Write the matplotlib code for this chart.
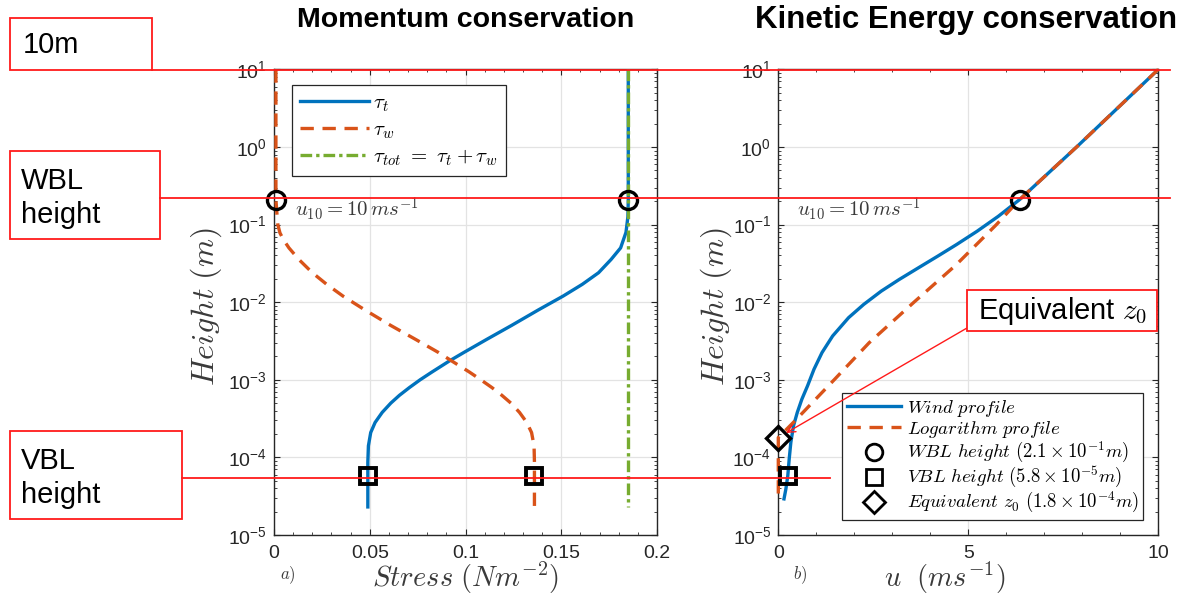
import matplotlib
matplotlib.use('Agg')
import matplotlib.pyplot as plt
from matplotlib.patches import Rectangle
from matplotlib.lines import Line2D
from matplotlib.ticker import LogLocator, MultipleLocator, NullFormatter, FixedLocator, FixedFormatter

plt.rcParams['font.family'] = ['Liberation Sans', 'DejaVu Sans']
plt.rcParams['mathtext.fontset'] = 'cm'

# ---------------- data ----------------
# Panel a) Momentum conservation
tau_t_z = [10, 1, 0.21, 0.126, 0.0794, 0.0501, 0.0355, 0.024, 0.017, 0.012,
           0.00794, 0.00501, 0.00331, 0.00224, 0.00175, 0.00126, 0.001, 7.94e-4,
           6.31e-4, 5.01e-4, 3.8e-4, 2.82e-4, 2.09e-4, 1.41e-4, 8.7e-5, 5.8e-5, 2.3e-5]
tau_t = [0.185, 0.185, 0.185, 0.1848, 0.1838, 0.181, 0.176, 0.1695, 0.161, 0.151,
         0.138, 0.124, 0.111, 0.099, 0.0916, 0.0825, 0.0763, 0.0707,
         0.0655, 0.061, 0.0565, 0.0528, 0.0505, 0.0493, 0.049, 0.049, 0.049]

tau_w_z = [10, 1, 0.21, 0.141, 0.1, 0.0782, 0.0641, 0.0501, 0.0355, 0.024, 0.017,
           0.012, 0.00794, 0.00501, 0.00331, 0.00224, 0.00175, 0.00126, 0.001,
           7.94e-4, 6.31e-4, 5.01e-4, 3.8e-4, 2.82e-4, 2.09e-4, 1.41e-4, 8.7e-5,
           5.8e-5, 2.3e-5]
tau_w = [0.001, 0.001, 0.001, 0.0015, 0.002, 0.0031, 0.0049, 0.0078, 0.013, 0.020, 0.0275,
         0.036, 0.0475, 0.061, 0.074, 0.086, 0.0928, 0.102, 0.108,
         0.1138, 0.119, 0.1237, 0.1282, 0.132, 0.1345, 0.1358, 0.136,
         0.136, 0.136]

tau_tot_z = [10, 2.3e-5]
tau_tot = [0.185, 0.185]

wbl_z = 0.21
vbl_z = 5.8e-5
z0_eq = 1.8e-4
wbl_stress = [0.001, 0.185]
vbl_stress = [0.049, 0.136]

# Panel b) Kinetic energy conservation
wind_z = [10, 1, 0.21, 0.128, 0.082, 0.0553, 0.0392, 0.0277, 0.0196, 0.0139,
          0.00938, 0.00632, 0.00367, 0.00224, 0.00137, 8.36e-4, 5.62e-4, 3.8e-4,
          2.55e-4, 1.56e-4, 9.55e-5, 5.82e-5, 3.93e-5, 2.92e-5]
wind_u = [10, 7.85, 6.35, 5.79, 5.23, 4.69, 4.195, 3.685, 3.18, 2.71,
          2.25, 1.85, 1.43, 1.15, 0.94, 0.77, 0.62, 0.50,
          0.40, 0.33, 0.287, 0.25, 0.20, 0.15]

log_z = [10, 1, 0.21, 0.1, 0.03, 0.01, 0.003, 0.001, 3e-4, 1.8e-4, 1e-4, 3e-5]
log_u = [10, 7.85, 6.35, 5.74, 4.67, 3.57, 2.39, 1.47, 0.45, 0.0, 0.0, 0.0]

wbl_u = 6.35
vbl_u = 0.25
z0_u = 0.0

left_xticks = [0, 0.05, 0.1, 0.15, 0.2]
left_xticklabels = ['0', '0.05', '0.1', '0.15', '0.2']
right_xticks = [0, 5, 10]
right_xticklabels = ['0', '5', '10']

# ---------------- styling ----------------
W, H = 1197, 597
BLUE = '#0072BD'
ORANGE = '#D95319'
GREEN = '#77AC30'
AXC = '#262626'
TXC = '#3a3a3a'
GRIDC = '#e3e3e3'

fig = plt.figure(figsize=(W / 100, H / 100), dpi=100)


def fx(px):
    return px / W


def fy(py):
    return 1 - py / H


ax_top, ax_bot = 69.4, 535.0
axL = fig.add_axes([fx(274), fy(ax_bot), fx(657) - fx(274), fy(ax_top) - fy(ax_bot)])
axR = fig.add_axes([fx(778.3), fy(ax_bot), fx(1158.3) - fx(778.3), fy(ax_top) - fy(ax_bot)])


def style_axis(ax, xlim, xticks, xlabels, xminor):
    ax.set_yscale('log')
    ax.set_ylim(1e-5, 10)
    ax.set_xlim(*xlim)
    ax.yaxis.set_major_locator(FixedLocator([1e-5, 1e-4, 1e-3, 1e-2, 1e-1, 1, 10]))
    ax.yaxis.set_minor_locator(LogLocator(base=10, subs=range(2, 10), numticks=20))
    ax.yaxis.set_minor_formatter(NullFormatter())
    ax.xaxis.set_major_locator(FixedLocator(xticks))
    ax.xaxis.set_major_formatter(FixedFormatter(xlabels))
    ax.xaxis.set_minor_locator(MultipleLocator(xminor))
    ax.tick_params(which='both', direction='in', top=True, right=True, colors=AXC,
                   labelsize=14, labelcolor=AXC)
    ax.tick_params(which='major', length=4, width=0.8)
    ax.tick_params(which='minor', length=2.5, width=0.6)
    ax.tick_params(axis='x', pad=7)
    ax.tick_params(axis='y', pad=5)
    for s in ax.spines.values():
        s.set_color(AXC)
        s.set_linewidth(1.0)
    ax.grid(True, which='major', color=GRIDC, lw=0.9)
    ax.set_axisbelow(True)


style_axis(axL, (0, 0.2), left_xticks, left_xticklabels, 0.01)
style_axis(axR, (0, 10), right_xticks, right_xticklabels, 1)
for ax in (axL, axR):
    ax.yaxis.set_major_formatter(FixedFormatter(
        [r'$\mathdefault{10^{-5}}$', r'$\mathdefault{10^{-4}}$', r'$\mathdefault{10^{-3}}$',
         r'$\mathdefault{10^{-2}}$', r'$\mathdefault{10^{-1}}$', r'$\mathdefault{10^{0}}$',
         r'$\mathdefault{10^{1}}$']))

DASH = (0, (4, 2.6))

# ---- left panel curves
axL.plot(tau_t, tau_t_z, color=BLUE, lw=2.4, label=r'$\tau_t$', zorder=3)
axL.plot(tau_w, tau_w_z, color=ORANGE, lw=2.4, ls=DASH, label=r'$\tau_w$', zorder=4)
axL.plot(tau_tot, tau_tot_z, color=GREEN, lw=2.4, ls=(0, (3.5, 1.2, 1, 1.2)),
         label=r'$\tau_{tot}\ =\ \tau_t + \tau_w$', zorder=5)
axL.plot(wbl_stress, [wbl_z, wbl_z], ls='none', marker='o', ms=13, mfc='none',
         mec='black', mew=2.4, zorder=6, clip_on=False)
axL.plot(vbl_stress, [vbl_z, vbl_z], ls='none', marker='s', ms=12, mfc='none',
         mec='black', mew=2.8, zorder=6, clip_on=False)
legL = axL.legend(loc='upper left', bbox_to_anchor=(0.047, 0.966), borderaxespad=0,
                  fontsize=15, handlelength=3.3, handletextpad=0.2, labelspacing=0.3,
                  borderpad=0.4, fancybox=False, framealpha=1, edgecolor=AXC)
legL.get_frame().set_linewidth(0.9)

# ---- right panel curves
axR.plot(wind_u, wind_z, color=BLUE, lw=2.4, zorder=3)
axR.plot(log_u, log_z, color=ORANGE, lw=2.4, ls=DASH, zorder=4, clip_on=False)
axR.plot([wbl_u], [wbl_z], ls='none', marker='o', ms=13, mfc='none', mec='black', mew=2.4, zorder=6)
axR.plot([vbl_u], [vbl_z], ls='none', marker='s', ms=12, mfc='none', mec='black', mew=2.8, zorder=6)
axR.plot([z0_u], [z0_eq], ls='none', marker='D', ms=12, mfc='none', mec='black', mew=2.4,
         zorder=6, clip_on=False)

handles = [
    Line2D([], [], color=BLUE, lw=2.4),
    Line2D([], [], color=ORANGE, lw=2.4, ls=DASH),
    Line2D([], [], ls='none', marker='o', ms=12, mfc='none', mec='black', mew=2),
    Line2D([], [], ls='none', marker='s', ms=11, mfc='none', mec='black', mew=2),
    Line2D([], [], ls='none', marker='D', ms=11, mfc='none', mec='black', mew=2),
]
labels = [r'$Wind\ profile$', r'$Logarithm\ profile$',
          r'$WBL\ height\ (2.1\times10^{-1}m)$',
          r'$VBL\ height\ (5.8\times10^{-5}m)$',
          r'$Equivalent\ z_0\ (1.8\times10^{-4}m)$']
legR = axR.legend(handles, labels, loc='lower right', bbox_to_anchor=(0.96, 0.032),
                  borderaxespad=0, fontsize=13.5, handlelength=2.9, handletextpad=0.3,
                  labelspacing=0.0, borderpad=0.25, fancybox=False, framealpha=1,
                  edgecolor=AXC)
legR.get_frame().set_linewidth(0.9)

# ---- texts
u10 = r'$u_{10} = 10\,ms^{-1}$'
fig.text(fx(295), fy(209), u10, fontsize=15, color=TXC, ha='left', va='center')
fig.text(fx(797), fy(209), u10, fontsize=15, color=TXC, ha='left', va='center')

fig.text(fx(466), fy(20), 'Momentum conservation', fontsize=20.5, fontweight='bold',
         ha='center', va='center', color='black')
fig.text(fx(966), fy(20), 'Kinetic Energy conservation', fontsize=22.5, fontweight='bold',
         ha='center', va='center', color='black')

fig.text(fx(206), fy(307), r'$Height\ (m)$', fontsize=23, rotation=90,
         ha='center', va='center', color=TXC)
fig.text(fx(716), fy(307), r'$Height\ (m)$', fontsize=23, rotation=90,
         ha='center', va='center', color=TXC)
fig.text(fx(466), fy(578), r'$Stress\ (Nm^{-2})$', fontsize=20.5,
         ha='center', va='center', color=TXC)
fig.text(fx(945), fy(578), r'$u\ \ (ms^{-1})$', fontsize=20.5,
         ha='center', va='center', color=TXC)
fig.text(fx(288), fy(575), r'$a)$', fontsize=12, ha='center', va='center', color=TXC)
fig.text(fx(800), fy(575), r'$b)$', fontsize=12, ha='center', va='center', color=TXC)

# ---- red annotations (figure-level)
RED = '#ff1a1a'


def red_box(x0, y0, x1, y1):
    fig.add_artist(Rectangle((fx(x0), fy(y1)), fx(x1) - fx(x0), fy(y0) - fy(y1),
                             transform=fig.transFigure, facecolor='white',
                             edgecolor=RED, lw=1.3, zorder=10))


def red_line(x0, x1, y):
    fig.add_artist(Line2D([fx(x0), fx(x1)], [fy(y), fy(y)], transform=fig.transFigure,
                          color=RED, lw=1.3, zorder=11))


red_line(152, 1170, 69.5)
red_line(160, 1170, 197.5)
red_line(182, 830, 478)

BOXFS = 21
red_box(10, 18, 152, 69.5)
fig.text(fx(23), fy(45), '10m', fontsize=BOXFS, ha='left', va='center', zorder=12)
red_box(10, 151, 160, 239)
fig.text(fx(21), fy(181), 'WBL', fontsize=BOXFS, ha='left', va='center', zorder=12)
fig.text(fx(21), fy(215), 'height', fontsize=BOXFS, ha='left', va='center', zorder=12)
red_box(10, 431, 182, 519)
fig.text(fx(21), fy(461), 'VBL', fontsize=BOXFS, ha='left', va='center', zorder=12)
fig.text(fx(21), fy(495), 'height', fontsize=BOXFS, ha='left', va='center', zorder=12)
red_box(967, 290, 1157, 331)
fig.text(fx(1063), fy(311), r'Equivalent $z_0$', fontsize=BOXFS, ha='center', va='center', zorder=12)

axR.annotate('', xy=(fx(786), fy(433)), xycoords='figure fraction',
             xytext=(fx(967), fy(328)), textcoords='figure fraction',
             arrowprops=dict(arrowstyle='->', color=RED, lw=1.0, shrinkA=0, shrinkB=0,
                             mutation_scale=14), zorder=12, annotation_clip=False)

fig.savefig('out.png', dpi=100)
